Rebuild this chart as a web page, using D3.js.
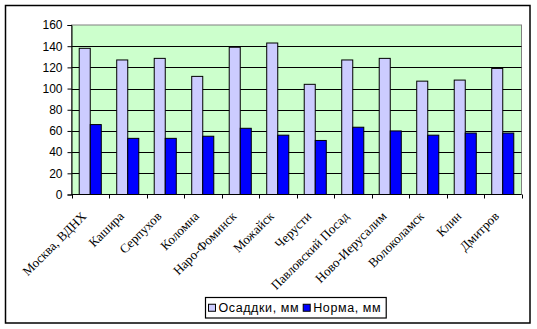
<!DOCTYPE html>
<html><head><meta charset="utf-8">
<script src="https://cdn.jsdelivr.net/npm/d3@7"></script>
<style>html,body{margin:0;padding:0;background:#fff;}svg{display:block;}</style>
</head><body>
<svg id="chart" width="537" height="329"></svg>
<script>
const categories = ["Москва, ВДНХ","Кашира","Серпухов","Коломна","Наро-Фоминск","Можайск","Черусти","Павловский Посад","Ново-Иерусалим","Волоколамск","Клин","Дмитров"];
const seriesNames = ["Осаддки, мм","Норма, мм"];
const osadki = [138,127,128.5,111.5,139,143,104,127,128.5,107,108,119];
const norma  = [66,53,53,55,62.5,56,51,63.5,60,56,58,58];
const yTicks = [0,20,40,60,80,100,120,140,160];
const colors = ["#CCCCFF","#0000FF"];

const svg = d3.select("#chart");
const plot = {left:71.5, right:521.5, top:25, bottom:194.5};

// outer border
svg.append("rect").attr("x",5.5).attr("y",5.5).attr("width",524.5).attr("height",317.5)
  .attr("fill","#fff").attr("stroke","#000").attr("stroke-width",1.5);

const x = d3.scaleBand().domain(categories).range([plot.left, plot.right]).padding(0);
const gapRatio = 1.4;
const bw = x.bandwidth()/(2+gapRatio);
const xs = d3.scaleBand().domain(seriesNames).range([bw*gapRatio/2, bw*gapRatio/2 + 2*bw]).padding(0);
const y = d3.scaleLinear().domain([0,160]).range([plot.bottom, plot.top]);

// plot background
svg.append("rect").attr("x",plot.left).attr("y",plot.top)
  .attr("width",plot.right-plot.left).attr("height",plot.bottom-plot.top)
  .attr("fill","#CCFFCC").attr("stroke","#808080").attr("stroke-width",1);

// gridlines
svg.append("g").selectAll("line").data(yTicks.filter(d=>d>0 && d<160)).join("line")
  .attr("x1",plot.left).attr("x2",plot.right)
  .attr("y1",d=>Math.round(y(d))+0.5).attr("y2",d=>Math.round(y(d))+0.5)
  .attr("stroke","#000").attr("stroke-width",1);

// bars
const data = categories.map((c,i)=>({c, vals:[osadki[i], norma[i]]}));
const g = svg.append("g");
data.forEach(d=>{
  d.vals.forEach((v,j)=>{
    g.append("rect")
      .attr("x", x(d.c)+xs(seriesNames[j]))
      .attr("y", y(v))
      .attr("width", xs.bandwidth())
      .attr("height", y(0)-y(v))
      .attr("fill", colors[j]).attr("stroke","#000").attr("stroke-width",1);
  });
});

// y axis
const yAxis = d3.axisLeft(y).tickValues(yTicks).tickSize(4).tickPadding(5);
const ya = svg.append("g").attr("transform",`translate(${plot.left},0)`).call(yAxis);
ya.select(".domain").attr("stroke","#000");
ya.selectAll(".tick line").attr("stroke","#000");
ya.selectAll(".tick text").attr("font-family","Arial, 'Liberation Sans', sans-serif").attr("font-size",12).attr("fill","#000");

// x axis line and ticks at band boundaries
svg.append("line").attr("x1",plot.left).attr("x2",plot.right).attr("y1",plot.bottom).attr("y2",plot.bottom).attr("stroke","#000");
const bounds = categories.map(c=>x(c)).concat([plot.right]);
svg.append("g").selectAll("line").data(bounds).join("line")
  .attr("x1",d=>Math.round(d)+0.5).attr("x2",d=>Math.round(d)+0.5)
  .attr("y1",plot.bottom).attr("y2",plot.bottom+4).attr("stroke","#000");

// x labels rotated
svg.append("g").selectAll("text").data(categories).join("text")
  .attr("transform",d=>`translate(${x(d)+x.bandwidth()/2-3},${plot.bottom+22.5}) rotate(-45)`)
  .attr("text-anchor","end")
  .attr("font-family","'Times New Roman', 'Liberation Serif', serif")
  .attr("font-size",13).attr("fill","#000")
  .text(d=>d);

// legend
const lg = svg.append("g");
const lx = 205.5, ly = 297.5, lh = 20.5;
const box = lg.append("rect").attr("x",lx).attr("y",ly).attr("height",lh).attr("fill","#fff").attr("stroke","#000").attr("stroke-width",1.2);
let cx = lx+3;
seriesNames.forEach((s,j)=>{
  lg.append("rect").attr("x",cx).attr("y",ly+lh/2-3.5).attr("width",7).attr("height",7)
    .attr("fill",colors[j]).attr("stroke","#000").attr("stroke-width",1);
  cx += 10;
  const t = lg.append("text").attr("x",cx).attr("y",ly+lh/2+4.5)
    .attr("font-family","Arial, 'Liberation Sans', sans-serif").attr("font-size",12.5)
    .attr("letter-spacing","0.6px").attr("fill","#000").text(s);
  cx += t.node().getComputedTextLength() + 4;
});
box.attr("width", cx - lx + 1);
</script>
</body></html>
